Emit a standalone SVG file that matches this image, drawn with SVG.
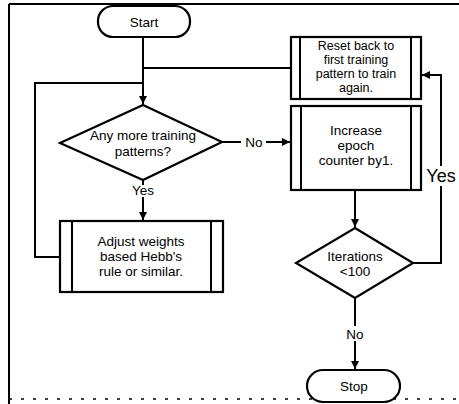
<svg xmlns="http://www.w3.org/2000/svg" width="459" height="404" viewBox="0 0 459 404">
<defs>
<marker id="arr" viewBox="0 0 10 10" refX="10" refY="5" markerWidth="8" markerHeight="8" markerUnits="userSpaceOnUse" orient="auto">
<path d="M0,0 L10,5 L0,10 z" fill="#000"/>
</marker>
<style>
.s{fill:#fff;stroke:#000;stroke-width:2.2}
.l{fill:none;stroke:#000;stroke-width:2}
.t{font-family:"Liberation Sans",Arial,sans-serif;font-size:13.5px;fill:#000;text-anchor:middle}
.sm{font-size:12.5px}
.frame{fill:none;stroke:#000;stroke-width:2}
</style>
</defs>
<rect width="459" height="404" fill="#fff"/>
<g id="frame">
<line class="frame" x1="9" y1="4" x2="459" y2="4"/>
<line class="frame" x1="9" y1="4" x2="9" y2="404"/>
<line x1="9" y1="399" x2="459" y2="399" stroke="#000" stroke-width="1.5" stroke-dasharray="3 9"/>
</g>
<g id="connectors">
<line class="l" x1="143" y1="38" x2="143" y2="104" marker-end="url(#arr)"/>
<line class="l" x1="143" y1="68" x2="291" y2="68"/>
<polyline class="l" points="60,257 35,257 35,83 143,83"/>
<line class="l" x1="143" y1="180" x2="143" y2="185"/>
<line class="l" x1="143" y1="197" x2="143" y2="220" marker-end="url(#arr)"/>
<line class="l" x1="222" y1="142" x2="241" y2="142"/>
<line class="l" x1="266" y1="142" x2="290" y2="142" marker-end="url(#arr)"/>
<line class="l" x1="355" y1="190" x2="355" y2="227" marker-end="url(#arr)"/>
<polyline class="l" points="413,263 441,263 441,186"/>
<polyline class="l" points="441,166 441,75 422,75" marker-end="url(#arr)"/>
<line class="l" x1="355" y1="298" x2="355" y2="326"/>
<line class="l" x1="355" y1="341" x2="355" y2="369" marker-end="url(#arr)"/>
<text class="t" x="143" y="195">Yes</text>
<text class="t" x="254" y="147">No</text>
<text class="t" x="355" y="339">No</text>
<text class="t" x="441" y="182" style="font-size:18px">Yes</text>
</g>
<g id="start">
<rect class="s" x="98" y="6" width="92" height="31" rx="15"/>
<text class="t" x="144" y="27">Start</text>
</g>
<g id="decision-patterns">
<polygon class="s" points="143,105 222,142 143,180 60,143"/>
<text class="t" x="143" y="140">Any more training</text>
<text class="t" x="143" y="156">patterns?</text>
</g>
<g id="adjust">
<rect class="s" x="60" y="221" width="163" height="71"/>
<line class="l" x1="72" y1="221" x2="72" y2="292"/>
<line class="l" x1="211" y1="221" x2="211" y2="292"/>
<text class="t" x="141" y="246">Adjust weights</text>
<text class="t" x="141" y="261">based Hebb's</text>
<text class="t" x="141" y="276">rule or similar.</text>
</g>
<g id="reset">
<rect class="s" x="291" y="37" width="130" height="62"/>
<line class="l" x1="300" y1="37" x2="300" y2="99"/>
<line class="l" x1="411" y1="37" x2="411" y2="99"/>
<text class="t sm" x="356" y="50">Reset back to</text>
<text class="t sm" x="356" y="64">first training</text>
<text class="t sm" x="356" y="78">pattern to train</text>
<text class="t sm" x="356" y="92">again.</text>
</g>
<g id="increase">
<rect class="s" x="291" y="106" width="130" height="84"/>
<line class="l" x1="301" y1="106" x2="301" y2="190"/>
<line class="l" x1="411" y1="106" x2="411" y2="190"/>
<text class="t" x="356" y="135">Increase</text>
<text class="t" x="356" y="150">epoch</text>
<text class="t" x="356" y="165">counter by1.</text>
</g>
<g id="decision-iterations">
<polygon class="s" points="355,228 413,263 355,298 296,263"/>
<text class="t" x="355" y="261">Iterations</text>
<text class="t" x="355" y="276">&lt;100</text>
</g>
<g id="stop">
<rect class="s" x="307" y="370" width="93" height="32" rx="16"/>
<text class="t" x="354" y="391">Stop</text>
</g>
</svg>
